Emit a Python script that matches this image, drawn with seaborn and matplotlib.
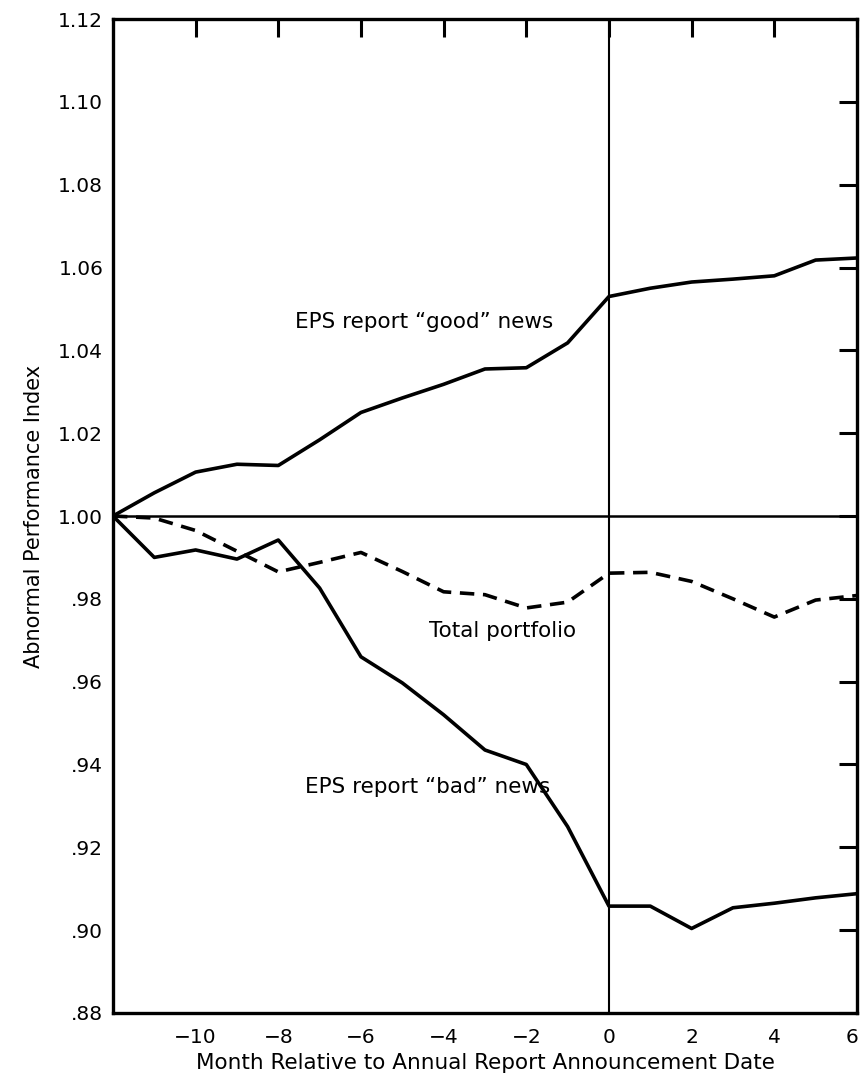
import matplotlib
matplotlib.use("Agg")
import matplotlib.pyplot as plt
import matplotlib.transforms as mtransforms
import numpy as np
import pandas as pd
import seaborn as sns

# Months relative to the annual report announcement
months = list(range(-12, 7))

# Abnormal performance index by portfolio
good_news = [1.000, 1.0056, 1.0106, 1.0125, 1.0122, 1.0184, 1.0250, 1.0285,
             1.0318, 1.0355, 1.0358, 1.0418, 1.0530, 1.0550, 1.0565, 1.0572,
             1.0580, 1.0618, 1.0623]
total_portfolio = [1.000, 0.9995, 0.9965, 0.9915, 0.9865, 0.9888, 0.9912,
                   0.9866, 0.9817, 0.9810, 0.9778, 0.9792, 0.9862, 0.9864,
                   0.9842, 0.9800, 0.9756, 0.9797, 0.9808]
bad_news = [1.000, 0.9900, 0.9918, 0.9896, 0.9942, 0.9826, 0.9660, 0.9597,
            0.9520, 0.9435, 0.9400, 0.9250, 0.9058, 0.9058, 0.9004, 0.9054,
            0.9065, 0.9078, 0.9088]

y_ticks = [1.12, 1.10, 1.08, 1.06, 1.04, 1.02, 1.00, 0.98, 0.96, 0.94, 0.92, 0.90, 0.88]
y_tick_labels = ["1.12", "1.10", "1.08", "1.06", "1.04", "1.02", "1.00",
                 ".98", ".96", ".94", ".92", ".90", ".88"]
x_ticks = [-10, -8, -6, -4, -2, 0, 2, 4, 6]
x_tick_labels = ["\u221210", "\u22128", "\u22126", "\u22124", "\u22122", "0", "2", "4", "6"]

df = pd.DataFrame({
    "month": months * 3,
    "index": good_news + total_portfolio + bad_news,
    "series": (["good"] * len(months) + ["total"] * len(months) + ["bad"] * len(months)),
})

sns.set_style("white")
plt.rcParams["font.family"] = ["DejaVu Sans"]
plt.rcParams["text.color"] = "black"
plt.rcParams["axes.labelcolor"] = "black"

fig = plt.figure(figsize=(8.61, 10.82), dpi=100)
ax = fig.add_axes([0.1312, 0.0638, 0.8641, 0.9186])

# Reference lines: index = 1.00 and announcement month
ax.axhline(1.00, color="black", lw=1.8, zorder=1)
ax.axvline(0, color="black", lw=1.5, zorder=1)

sns.lineplot(data=df[df.series == "good"], x="month", y="index", color="black",
             lw=2.6, ax=ax, legend=False)
sns.lineplot(data=df[df.series == "bad"], x="month", y="index", color="black",
             lw=2.6, ax=ax, legend=False)
sns.lineplot(data=df[df.series == "total"], x="month", y="index", color="black",
             lw=2.6, ax=ax, legend=False, linestyle=(0, (4.0, 2.4)))

ax.set_xlim(-12, 6)
ax.set_ylim(0.88, 1.12)
ax.set_xticks(x_ticks)
ax.set_xticklabels(x_tick_labels)
ax.set_yticks(y_ticks)
ax.set_yticklabels(y_tick_labels)

ax.tick_params(axis="both", direction="in", length=13, width=2.2, colors="black",
               labelsize=14.5, top=True, right=True)
ax.tick_params(axis="x", pad=11)
ax.tick_params(axis="y", pad=7)

# Keep the last month label inside the figure edge
last_label = ax.get_xticklabels()[-1]
last_label.set_transform(last_label.get_transform() +
                         mtransforms.ScaledTranslation(-5 / 100, 0, fig.dpi_scale_trans))

for spine in ax.spines.values():
    spine.set_visible(True)
    spine.set_color("black")
    spine.set_linewidth(2.4)

ax.set_xlabel("Month Relative to Annual Report Announcement Date", fontsize=15.5, labelpad=4)
ax.set_ylabel("Abnormal Performance Index", fontsize=15, labelpad=10)

ax.text(-7.6, 1.0468, "EPS report \u201cgood\u201d news", fontsize=15.5, va="center", ha="left")
ax.text(-4.35, 0.9722, "Total portfolio", fontsize=15.5, va="center", ha="left")
ax.text(-7.35, 0.9346, "EPS report \u201cbad\u201d news", fontsize=15.5, va="center", ha="left")

fig.savefig("out.png", dpi=100, facecolor="white")
